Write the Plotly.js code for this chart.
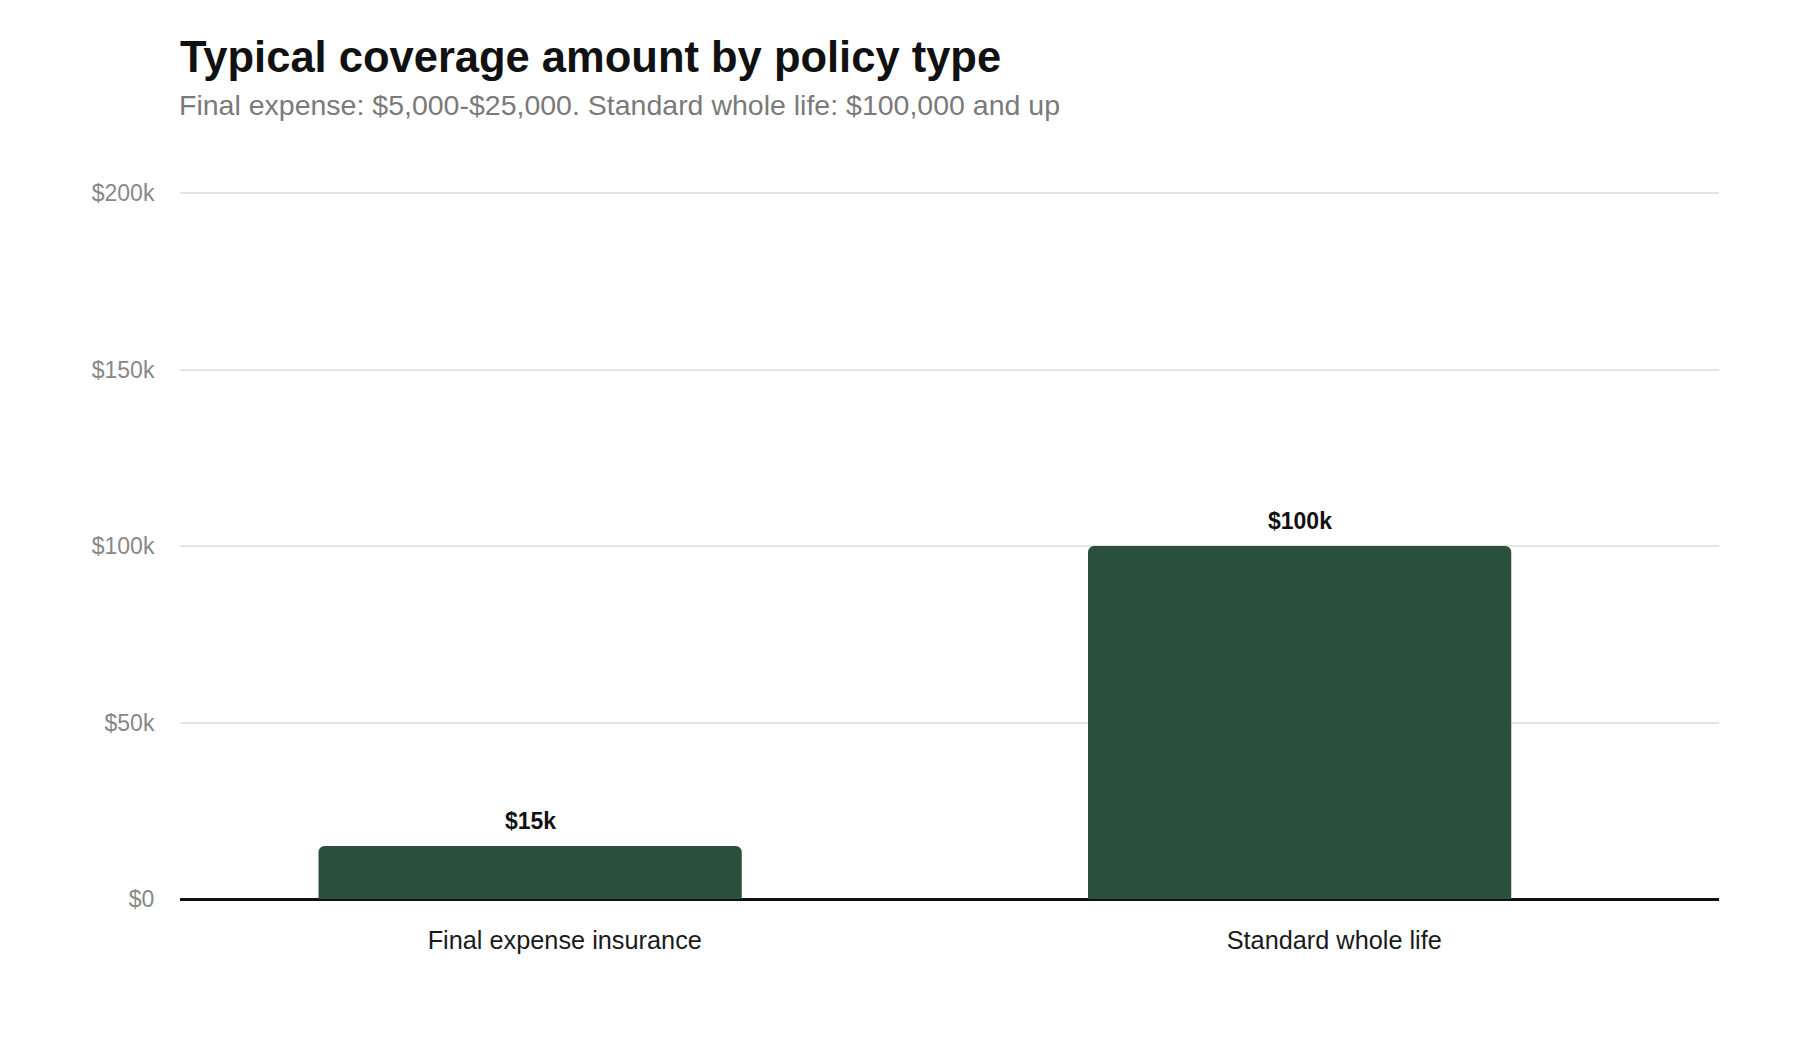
<!DOCTYPE html>
<html>
<head>
<meta charset="utf-8">
<script src="https://cdn.plot.ly/plotly-3.0.1.min.js"></script>
<style>
  html, body { margin: 0; padding: 0; background: #ffffff; }
  #chart { width: 1800px; height: 1040px; }
</style>
</head>
<body>
<div id="chart"></div>
<script>
// Donnees du graphique
const categories = ['Final expense insurance', 'Standard whole life'];
const coverage = [15000, 100000];
const valueLabels = ['$15k', '$100k'];
const tickValues = [0, 50000, 100000, 150000, 200000];
const tickLabels = ['$0', '$50k', '$100k', '$150k', '$200k'];

const FONT = 'Liberation Sans, Arial, Helvetica, sans-serif';
const BAR_COLOR = '#2a4f3d';
const BAR_WIDTH = 0.55;
const BAR_OFFSET = -0.32;

const trace = {
  type: 'bar',
  x: categories,
  y: coverage,
  width: BAR_WIDTH,
  offset: BAR_OFFSET,
  marker: {
    color: BAR_COLOR,
    cornerradius: 6,
    line: { width: 0 }
  },
  hoverinfo: 'x+y'
};

// Etiquettes de valeur au-dessus des barres (centrees sur la barre decalee)
const valueAnnotations = coverage.map((v, i) => ({
  x: i + BAR_OFFSET + BAR_WIDTH / 2,
  y: v,
  xref: 'x',
  yref: 'y',
  text: '<b>' + valueLabels[i] + '</b>',
  showarrow: false,
  xanchor: 'center',
  yanchor: 'bottom',
  yshift: 10,
  font: { family: FONT, size: 23, color: '#111111' }
}));

const subtitleAnnotation = {
  text: 'Final expense: $5,000-$25,000. Standard whole life: $100,000 and up',
  xref: 'paper',
  yref: 'paper',
  x: 0,
  y: 1 + 86 / 708,
  xanchor: 'left',
  yanchor: 'middle',
  xshift: -3,
  showarrow: false,
  font: { family: FONT, size: 28.5, color: '#7a7a7a' }
};

const layout = {
  width: 1800,
  height: 1040,
  margin: { t: 191, l: 180, r: 81, b: 141 },
  paper_bgcolor: '#ffffff',
  plot_bgcolor: '#ffffff',
  font: { family: FONT, color: '#222222' },
  showlegend: false,
  title: {
    text: '<b>Typical coverage amount by policy type</b>',
    font: { family: FONT, size: 43.5, color: '#111111' },
    x: 0,
    xref: 'paper',
    xanchor: 'left',
    y: 1 - 57 / 1040,
    yref: 'container',
    yanchor: 'middle'
  },
  annotations: [subtitleAnnotation].concat(valueAnnotations),
  xaxis: {
    type: 'category',
    range: [-0.5, categories.length - 0.5],
    showgrid: false,
    zeroline: false,
    showline: false,
    ticks: 'outside',
    ticklen: 19,
    tickcolor: 'rgba(0,0,0,0)',
    tickfont: { family: FONT, size: 25.3, color: '#1a1a1a' },
    fixedrange: true
  },
  yaxis: {
    range: [0, 200600],
    tickvals: tickValues,
    ticktext: tickLabels,
    showgrid: true,
    gridcolor: '#e3e3e3',
    gridwidth: 1.5,
    zeroline: true,
    zerolinecolor: '#111111',
    zerolinewidth: 3,
    showline: false,
    ticks: 'outside',
    ticklen: 20,
    tickcolor: 'rgba(0,0,0,0)',
    tickfont: { family: FONT, size: 23, color: '#888888' },
    fixedrange: true
  }
};

const config = {
  responsive: false,
  displayModeBar: false
};

Plotly.newPlot('chart', [trace], layout, config);
</script>
</body>
</html>
